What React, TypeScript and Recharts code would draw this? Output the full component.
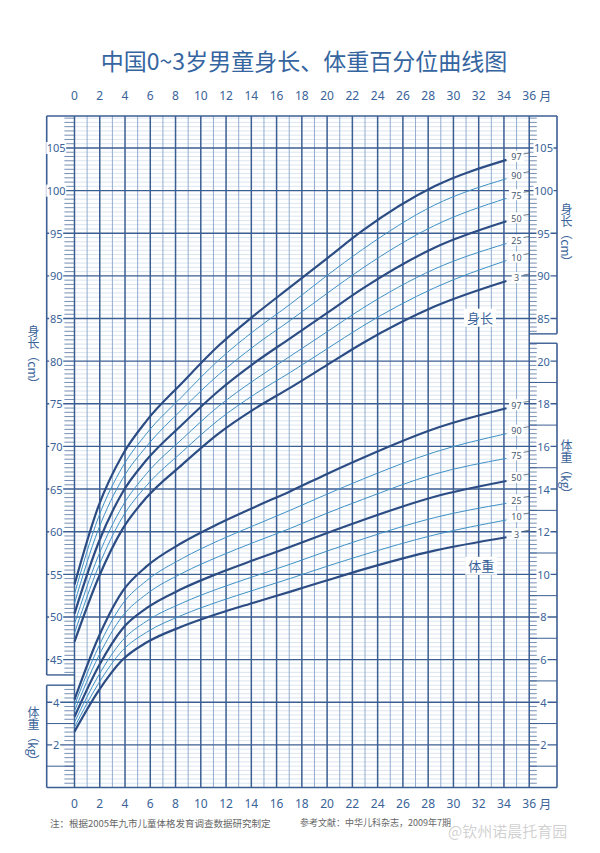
import React from 'react';
import { LineChart, Line, XAxis, YAxis, ReferenceLine, ReferenceDot } from 'recharts';

// month positions of the curve points, as they sit on the chart
const months = [0, 1.9, 3.8, 5.7, 8.55, 11.4, 14.25, 17.1, 19.95, 22.8, 28.5, 34.2];

// 身长 (cm)
const lenP3 = [47.1, 54.6, 60.3, 64.0, 67.9, 71.5, 74.4, 76.9, 79.5, 82.1, 86.4, 89.4];
const lenP10 = [48.1, 55.9, 61.7, 65.4, 69.4, 73.1, 76.1, 78.7, 81.4, 84.1, 88.6, 91.8];
const lenP25 = [49.2, 57.2, 63.0, 66.8, 70.9, 74.7, 77.8, 80.6, 83.4, 86.2, 90.8, 93.8];
const lenP50 = [50.4, 58.7, 64.6, 68.4, 72.6, 76.5, 79.8, 82.7, 85.6, 88.5, 93.3, 96.4];
const lenP75 = [51.6, 60.3, 66.2, 70.0, 74.4, 78.4, 81.8, 84.8, 87.9, 90.9, 95.9, 99.1];
const lenP90 = [52.7, 61.7, 67.6, 71.5, 75.9, 80.1, 83.6, 86.7, 90.0, 93.1, 98.3, 101.4];
const lenP97 = [53.8, 63.0, 69.0, 73.0, 77.5, 81.8, 85.4, 88.7, 92.0, 95.3, 100.5, 103.6];

// 体重 (kg)
const wtP3 = [2.62, 4.53, 5.99, 6.8, 7.56, 8.16, 8.68, 9.19, 9.71, 10.22, 11.11, 11.74];
const wtP10 = [2.83, 4.88, 6.43, 7.28, 8.09, 8.72, 9.27, 9.81, 10.37, 10.9, 11.85, 12.55];
const wtP25 = [3.06, 5.25, 6.9, 7.8, 8.66, 9.33, 9.91, 10.48, 11.08, 11.65, 12.66, 13.33];
const wtP50 = [3.32, 5.68, 7.45, 8.41, 9.33, 10.05, 10.68, 11.29, 11.93, 12.54, 13.64, 14.38];
const wtP75 = [3.59, 6.15, 8.04, 9.07, 10.06, 10.83, 11.51, 12.16, 12.86, 13.51, 14.7, 15.44];
const wtP90 = [3.85, 6.59, 8.61, 9.7, 10.75, 11.58, 12.3, 13.01, 13.75, 14.46, 15.73, 16.6];
const wtP97 = [4.12, 7.05, 9.2, 10.37, 11.49, 12.37, 13.15, 13.9, 14.7, 15.46, 16.83, 17.79];

const percentiles = ['3', '10', '25', '50', '75', '90', '97'];
const lengthValues = [lenP3, lenP10, lenP25, lenP50, lenP75, lenP90, lenP97];
const weightValues = [wtP3, wtP10, wtP25, wtP50, wtP75, wtP90, wtP97];
const thickOnes = ['3', '50', '97'];

const monthTicks = [0, 2, 4, 6, 8, 10, 12, 14, 16, 18, 20, 22, 24, 26, 28, 30, 32, 34, 36];
const lenTicksLeft = [45, 50, 55, 60, 65, 70, 75, 80, 85, 90, 95, 100, 105];
const lenTicksRight = [85, 90, 95, 100, 105];
const wtTicksLeft = [2, 4];
const wtTicksRight = [2, 4, 6, 8, 10, 12, 14, 16, 18, 20];

// frame extents (month / cm units); weight kg = (cm - 30) / 2.5
const X_MIN = -2.2;
const X_MAX = 38.2;
const L_MIN = 30;
const L_MAX = 108.75;
const W_MAX = 31.5;
const LEFT_LEN_BOTTOM = 43.2;
const LEFT_WT_TOP = 42.0;
const RIGHT_LEN_BOTTOM = 83.2;
const RIGHT_WT_TOP = 82.1;

const DARK = '#2c4c84';
const THIN = '#3f90c4';
const GRID_MAJOR = '#3b5e93';
const GRID_ODD = '#86a4c9';
const GRID_MINOR = '#c2d4e7';
const TEXT = '#3a6399';

const toRows = (vals: number[]) => months.map((m, i) => ({ m, v: vals[i] }));

const halfSteps: number[] = [];
for (let v = 30.5; v < L_MAX; v += 0.5) {
  if (Math.abs(v / 5 - Math.round(v / 5)) > 1e-6) halfSteps.push(Math.round(v * 10) / 10);
}
const majorLines: number[] = [];
for (let v = 35; v <= 105; v += 5) majorLines.push(v);
const allMonths: number[] = [];
for (let m = 0; m <= 36; m++) allMonths.push(m);

const inLeftBox = (v: number) => v > LEFT_LEN_BOTTOM || v < LEFT_WT_TOP;
const inRightBox = (v: number) => v > RIGHT_LEN_BOTTOM || v < RIGHT_WT_TOP;

const seg = (x1: number, y1: number, x2: number, y2: number, stroke: string, w: number, key: string) => (
  <ReferenceLine
    key={key}
    xAxisId="b"
    yAxisId="L"
    segment={[{ x: x1, y: y1 }, { x: x2, y: y2 }]}
    stroke={stroke}
    strokeWidth={w}
    ifOverflow="visible"
  />
);

const MonthTick = (props: any) => {
  const { x, payload, yPos } = props;
  return (
    <g>
      <text x={x} y={yPos} textAnchor="middle" dominantBaseline="central" fill={TEXT} fontSize={12} fontFamily="'Noto Sans', sans-serif">
        {payload.value}
      </text>
      {payload.value === 36 && (
        <text x={x + 16} y={yPos} textAnchor="middle" dominantBaseline="central" fill={TEXT} fontSize={12} fontFamily="'Noto Sans CJK SC', sans-serif">
          月
        </text>
      )}
    </g>
  );
};

const SideLabel = (props: any) => {
  const { cx, cy, text, dx } = props;
  const w = text.length * 6 + 2;
  return (
    <g>
      <rect x={cx + dx - w / 2} y={cy - 6} width={w} height={12} fill="#fff" />
      <text x={cx + dx} y={cy} textAnchor="middle" dominantBaseline="central" fill={TEXT} fontSize={11} fontFamily="'Noto Sans', sans-serif">
        {text}
      </text>
    </g>
  );
};

const PctLabel = (props: any) => {
  const { cx, cy, text } = props;
  const w = text.length * 5.5 + 4;
  return (
    <g>
      <rect x={cx + 10 - w / 2} y={cy - 9} width={w} height={11} fill="#fff" />
      <text x={cx + 10} y={cy - 3} textAnchor="middle" dominantBaseline="central" fill="#4a5a70" fontSize={9} fontFamily="'Noto Sans', sans-serif">
        {text}
      </text>
      <line x1={cx + 17} y1={cy - 6} x2={cx + 23} y2={cy - 7} stroke="#4a5a70" strokeWidth={0.8} />
    </g>
  );
};

const NameLabel = (props: any) => {
  const { cx, cy, text } = props;
  return (
    <g>
      <rect x={cx - 16} y={cy - 9} width={32} height={18} fill="#fff" />
      <text x={cx} y={cy} textAnchor="middle" dominantBaseline="central" fill={TEXT} fontSize={13} fontFamily="'Noto Sans CJK SC', sans-serif">
        {text}
      </text>
    </g>
  );
};

const vText: React.CSSProperties = {
  position: 'absolute',
  writingMode: 'vertical-rl',
  color: TEXT,
  fontSize: 12,
  fontFamily: "'Noto Sans CJK SC', sans-serif",
  transform: 'translate(-50%, -50%)',
  lineHeight: 1,
};

const sideDot = (axis: string, x: number, v: number, dx: number, key: string) => (
  <ReferenceDot
    key={key}
    xAxisId="b"
    yAxisId={axis}
    x={x}
    y={v}
    r={0}
    ifOverflow="visible"
    shape={(s: any) => <SideLabel {...s} text={String(v)} dx={dx} />}
  />
);

export default function App() {
  const last = months.length - 1;
  return (
    <div style={{ position: 'absolute', left: 0, top: 0, width: 600, height: 853, background: '#fff', overflow: 'hidden' }}>
      <div
        style={{
          position: 'absolute',
          left: 0,
          width: 600,
          top: 43,
          textAlign: 'center',
          color: '#3565a0',
          fontSize: 23,
          fontFamily: "'Noto Sans CJK SC', sans-serif",
          fontWeight: 400,
          paddingLeft: 4,
        }}
      >
        中国0~3岁男童身长、体重百分位曲线图
      </div>

      <LineChart width={600} height={853} margin={{ top: 96, bottom: 45.5, left: 46.7, right: 43 }} style={{ position: 'absolute', left: 0, top: 0 }}>
        {/* fine horizontal grid, every 0.5 cm / 0.2 kg */}
        {halfSteps.map((v) => seg(0, v, 36, v, GRID_MINOR, 0.6, `mn${v}`))}
        {/* odd month lines */}
        {allMonths.map((m) => (m % 2 === 0 ? null : seg(m, L_MIN, m, L_MAX, GRID_ODD, 0.9, `vo${m}`)))}
        {/* small ticks inside the side boxes */}
        {halfSteps.filter(inLeftBox).map((v) => seg(-0.8, v, 0, v, GRID_MAJOR, 0.7, `tl${v}`))}
        {halfSteps.filter(inRightBox).map((v) => seg(36, v, 36.6, v, GRID_MAJOR, 0.7, `tr${v}`))}
        {/* odd-kg lines across the weight boxes */}
        {[32.5, 37.5].map((v) => seg(X_MIN, v, 0, v, GRID_MAJOR, 1, `ol${v}`))}
        {[32.5, 37.5, 42.5, 47.5, 52.5, 57.5, 62.5, 67.5, 72.5, 77.5].map((v) => seg(36, v, X_MAX, v, GRID_MAJOR, 1, `or${v}`))}
        {/* major lines, every 5 cm / 2 kg */}
        {majorLines.map((v) => seg(X_MIN, v, X_MAX, v, GRID_MAJOR, 1.4, `mj${v}`))}
        {allMonths.map((m) => (m % 2 === 0 ? seg(m, L_MIN, m, L_MAX, GRID_MAJOR, 1.5, `ve${m}`) : null))}
        {/* frame */}
        {seg(X_MIN, L_MAX, X_MAX, L_MAX, GRID_MAJOR, 1.6, 'fTop')}
        {seg(X_MIN, L_MIN, X_MAX, L_MIN, GRID_MAJOR, 1.6, 'fBot')}
        {seg(X_MIN, LEFT_LEN_BOTTOM, X_MIN, L_MAX, GRID_MAJOR, 1.6, 'fL1')}
        {seg(X_MIN, L_MIN, X_MIN, LEFT_WT_TOP, GRID_MAJOR, 1.6, 'fL2')}
        {seg(X_MIN, LEFT_LEN_BOTTOM, 0, LEFT_LEN_BOTTOM, GRID_MAJOR, 1.4, 'fL3')}
        {seg(X_MIN, LEFT_WT_TOP, 0, LEFT_WT_TOP, GRID_MAJOR, 1.4, 'fL4')}
        {seg(X_MAX, RIGHT_LEN_BOTTOM, X_MAX, L_MAX, GRID_MAJOR, 1.6, 'fR1')}
        {seg(X_MAX, L_MIN, X_MAX, RIGHT_WT_TOP, GRID_MAJOR, 1.6, 'fR2')}
        {seg(36, RIGHT_LEN_BOTTOM, X_MAX, RIGHT_LEN_BOTTOM, GRID_MAJOR, 1.4, 'fR3')}
        {seg(36, RIGHT_WT_TOP, X_MAX, RIGHT_WT_TOP, GRID_MAJOR, 1.4, 'fR4')}

        <XAxis
          xAxisId="t"
          orientation="top"
          type="number"
          dataKey="m"
          domain={[X_MIN, X_MAX]}
          ticks={monthTicks}
          interval={0}
          height={20}
          axisLine={false}
          tickLine={false}
          allowDataOverflow
          tick={(p: any) => <MonthTick {...p} yPos={95} />}
        />
        <XAxis
          xAxisId="b"
          orientation="bottom"
          type="number"
          dataKey="m"
          domain={[X_MIN, X_MAX]}
          ticks={monthTicks}
          interval={0}
          height={20}
          axisLine={false}
          tickLine={false}
          allowDataOverflow
          tick={(p: any) => <MonthTick {...p} yPos={803} />}
        />
        <YAxis yAxisId="L" hide type="number" domain={[L_MIN, L_MAX]} allowDataOverflow />
        <YAxis yAxisId="w" hide type="number" domain={[0, W_MAX]} allowDataOverflow />

        {percentiles.map((p, i) => (
          <Line
            key={`len${p}`}
            xAxisId="b"
            yAxisId="L"
            data={toRows(lengthValues[i])}
            dataKey="v"
            type="monotone"
            stroke={thickOnes.includes(p) ? DARK : THIN}
            strokeWidth={thickOnes.includes(p) ? 2.2 : 1}
            dot={false}
            activeDot={false}
            isAnimationActive={false}
          />
        ))}
        {percentiles.map((p, i) => (
          <Line
            key={`wt${p}`}
            xAxisId="b"
            yAxisId="w"
            data={toRows(weightValues[i])}
            dataKey="v"
            type="monotone"
            stroke={thickOnes.includes(p) ? DARK : THIN}
            strokeWidth={thickOnes.includes(p) ? 2.2 : 1}
            dot={false}
            activeDot={false}
            isAnimationActive={false}
          />
        ))}

        {/* side-box scale labels */}
        {lenTicksLeft.map((v) => sideDot('L', X_MIN, v, 9.5, `sl${v}`))}
        {wtTicksLeft.map((v) => sideDot('w', X_MIN, v, 9.5, `swl${v}`))}
        {lenTicksRight.map((v) => sideDot('L', X_MAX, v, -13.5, `sr${v}`))}
        {wtTicksRight.map((v) => sideDot('w', X_MAX, v, -13.5, `swr${v}`))}

        {percentiles.map((p, i) => (
          <ReferenceDot key={`ll${p}`} xAxisId="b" yAxisId="L" x={months[last]} y={lengthValues[i][last]} r={0} ifOverflow="visible" shape={(s: any) => <PctLabel {...s} text={p} />} />
        ))}
        {percentiles.map((p, i) => (
          <ReferenceDot key={`wl${p}`} xAxisId="b" yAxisId="w" x={months[last]} y={weightValues[i][last]} r={0} ifOverflow="visible" shape={(s: any) => <PctLabel {...s} text={p} />} />
        ))}
        <ReferenceDot xAxisId="b" yAxisId="L" x={32.1} y={85.1} r={0} ifOverflow="visible" shape={(s: any) => <NameLabel {...s} text="身长" />} />
        <ReferenceDot xAxisId="b" yAxisId="w" x={32.2} y={10.4} r={0} ifOverflow="visible" shape={(s: any) => <NameLabel {...s} text="体重" />} />
      </LineChart>

      <div style={{ ...vText, left: 33, top: 358 }}>身长（cm）</div>
      <div style={{ ...vText, left: 33, top: 737 }}>体重（kg）</div>
      <div style={{ ...vText, left: 566, top: 236 }}>身长（cm）</div>
      <div style={{ ...vText, left: 566, top: 470 }}>体重（kg）</div>

      <div style={{ position: 'absolute', left: 50, top: 816, fontSize: 9.5, color: '#666', fontFamily: "'Noto Sans CJK SC', sans-serif", whiteSpace: 'nowrap' }}>
        注：根据2005年九市儿童体格发育调查数据研究制定
      </div>
      <div style={{ position: 'absolute', left: 300, top: 816, fontSize: 9, color: '#666', fontFamily: "'Noto Sans CJK SC', sans-serif", whiteSpace: 'nowrap' }}>
        参考文献：中华儿科杂志，2009年7期
      </div>
      <div style={{ position: 'absolute', left: 448, top: 820, fontSize: 15, color: 'rgba(150,150,150,0.45)', fontFamily: "'Noto Sans CJK SC', sans-serif", whiteSpace: 'nowrap' }}>
        @钦州诺晨托育园
      </div>
    </div>
  );
}
